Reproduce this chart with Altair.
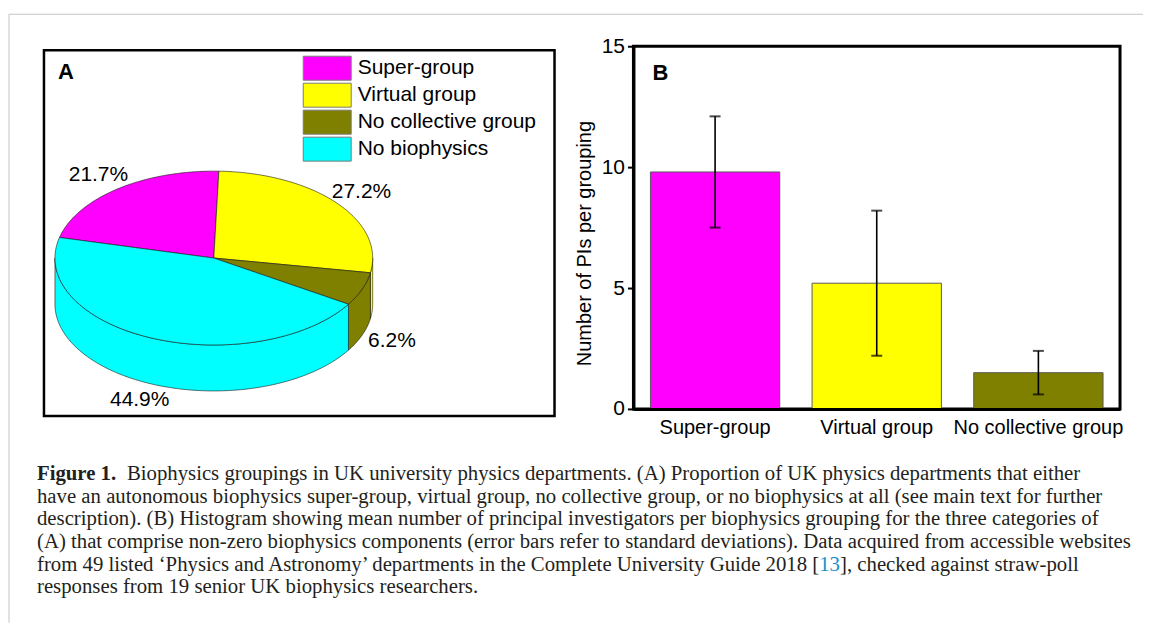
import altair as alt
import numpy as np
import pandas as pd

# ---------------- data ----------------
pie_groups = ["Super-group", "Virtual group", "No collective group", "No biophysics"]
pie_share = [21.7, 27.2, 6.2, 44.9]
group_colors = ["#FF00FF", "#FFFF00", "#808000", "#00FFFF"]

bar_groups = ["Super-group", "Virtual group", "No collective group"]
bar_mean = [9.8, 5.2, 1.5]
bar_sd = [2.3, 3.0, 0.9]
y_tick_values = [0, 5, 10, 15]
y_title = "Number of PIs per grouping"

caption_head = "Figure 1."
caption_lines = [
    "Biophysics groupings in UK university physics departments. (A) Proportion of UK physics departments that either",
    "have an autonomous biophysics super-group, virtual group, no collective group, or no biophysics at all (see main text for further",
    "description). (B) Histogram showing mean number of principal investigators per biophysics grouping for the three categories of",
    "(A) that comprise non-zero biophysics components (error bars refer to standard deviations). Data acquired from accessible websites",
    "from 49 listed \u2018Physics and Astronomy\u2019 departments in the Complete University Guide 2018 [13], checked against straw-poll",
    "responses from 19 senior UK biophysics researchers.",
]
caption_ref = "13"

# ---------------- style / geometry ----------------
FONT = "Liberation Sans"
SERIF = "Liberation Serif"
TILT = 87 / 159      # vertical squash of the pie disc
THICK = 46 / 159     # disc thickness (in pie radii)
START_DEG = -76.3    # clockwise from 12 o'clock where the first slice starts
LABEL_R = 1.2

proj = alt.Projection(type="identity", reflectY=True, scale=159, translate=[170, 212])


def ell(t_deg, drop=0.0):
    r = np.radians(t_deg)
    return [round(float(np.sin(r)), 5), round(float(TILT * np.cos(r) - drop), 5)]


top_feats, side_feats, label_rows = [], [], []
a = START_DEG
for g, s in zip(pie_groups, pie_share):
    b = a + 3.6 * s
    ts = np.linspace(a, b, max(int(b - a), 2) + 1)
    ring = [[0.0, 0.0]] + [ell(t) for t in ts] + [[0.0, 0.0]]
    top_feats.append({"type": "Feature", "properties": {"group": g},
                      "geometry": {"type": "Polygon", "coordinates": [ring]}})
    for shift in (-360.0, 0.0, 360.0):
        lo, hi = max(a + shift, 90.0), min(b + shift, 270.0)
        if hi > lo:
            tt = np.linspace(lo, hi, max(int(hi - lo), 2) + 1)
            sring = [ell(t) for t in tt] + [ell(t, THICK) for t in tt[::-1]]
            sring.append(sring[0])
            side_feats.append({"type": "Feature", "properties": {"group": g},
                               "geometry": {"type": "Polygon", "coordinates": [sring]}})
    m = np.radians((a + b) / 2)
    lx = LABEL_R * np.sin(m)
    ly = LABEL_R * TILT * np.cos(m) - (THICK if np.cos(m) < 0 else 0.0)
    label_rows.append({"lon": float(lx), "lat": float(ly), "txt": f"{s}%"})
    a = b

one = pd.DataFrame({"v": [0]})

pie_color = alt.Color(
    "properties.group:N",
    scale=alt.Scale(domain=pie_groups, range=group_colors),
    legend=alt.Legend(
        orient="none", legendX=271, legendY=9.5, title=None,
        symbolType="M-2,-1H2V1H-2Z", symbolSize=576,
        symbolStrokeColor="#7a7a7a", symbolStrokeWidth=1, symbolOpacity=1,
        labelFont=FONT, labelFontSize=21, labelColor="black",
        labelOffset=18, rowPadding=-2, padding=0, labelLimit=0,
    ),
)

frame_top = alt.Chart(one).mark_rule(color="#c4c4c4", strokeWidth=1).encode(
    x=alt.value(-35), x2=alt.value(1100), y=alt.value(-32))
frame_left = alt.Chart(one).mark_rule(color="#c4c4c4", strokeWidth=1).encode(
    x=alt.value(-35), y=alt.value(-32), y2=alt.value(577))
box_a = alt.Chart(one).mark_rect(fill="white", fillOpacity=0, stroke="black", strokeWidth=2.5).encode(
    x=alt.value(0), x2=alt.value(511), y=alt.value(4), y2=alt.value(370))

sides = alt.Chart(alt.Data(values=side_feats)).mark_geoshape(
    stroke="#1a1a1a", strokeWidth=0.6).encode(color=pie_color).project(**proj.to_dict())
tops = alt.Chart(alt.Data(values=top_feats)).mark_geoshape(
    stroke="#1a1a1a", strokeWidth=0.6).encode(color=pie_color).project(**proj.to_dict())
pct = alt.Chart(pd.DataFrame(label_rows)).mark_text(
    font=FONT, fontSize=21, color="black", align="center", baseline="middle").encode(
    longitude="lon:Q", latitude="lat:Q", text="txt:N").project(**proj.to_dict())
tag_a = alt.Chart(one).mark_text(text="A", font=FONT, fontSize=22, fontWeight="bold",
                                 color="black", align="left", baseline="middle").encode(
    x=alt.value(14), y=alt.value(25.5))

panel_a = alt.layer(frame_top, frame_left, box_a, sides, tops, pct, tag_a).properties(
    width=511, height=370)

# ---------------- panel B ----------------
bar_df = pd.DataFrame({"group": bar_groups, "mean": bar_mean, "sd": bar_sd})
xB = alt.X("group:N", sort=bar_groups, title=None,
           scale=alt.Scale(paddingInner=0.2, paddingOuter=0.105),
           axis=alt.Axis(labelAngle=0, ticks=False, domain=True, domainColor="black",
                         domainWidth=3, labelFont=FONT, labelFontSize=20, labelColor="black",
                         labelPadding=9, labelLimit=0, zindex=1))
yscale = alt.Scale(domain=[0, 15], nice=False)
yaxis = alt.Axis(values=y_tick_values, title=y_title, grid=False, domain=True,
                 domainColor="black", domainWidth=3, ticks=True, tickSize=6, tickWidth=2,
                 tickColor="black", labelFont=FONT, labelFontSize=21, labelColor="black",
                 labelPadding=3, titleFont=FONT, titleFontSize=20, titleFontWeight="normal",
                 titleColor="black", titlePadding=7, titleY=197, zindex=1)

bars = alt.Chart(bar_df).mark_bar(stroke="#5a5a5a", strokeWidth=1).encode(
    x=xB, y=alt.Y("mean:Q", scale=yscale, axis=yaxis),
    color=alt.Color("group:N", scale=alt.Scale(domain=pie_groups, range=group_colors), legend=None))
err_base = alt.Chart(bar_df).transform_calculate(
    lo="datum.mean - datum.sd", hi="datum.mean + datum.sd")
err = err_base.mark_rule(color="black", strokeWidth=1.6).encode(
    x=alt.X("group:N", sort=bar_groups), y=alt.Y("lo:Q", title=y_title), y2="hi:Q")
cap_hi = err_base.mark_tick(color="black", thickness=2, size=11).encode(
    x=alt.X("group:N", sort=bar_groups), y=alt.Y("hi:Q", title=y_title))
cap_lo = err_base.mark_tick(color="black", thickness=2, size=11).encode(
    x=alt.X("group:N", sort=bar_groups), y=alt.Y("lo:Q", title=y_title))
tag_b = alt.Chart(one).mark_text(text="B", font=FONT, fontSize=22, fontWeight="bold",
                                 color="black", align="left", baseline="middle").encode(
    x=alt.value(19), y=alt.value(27))

panel_b = alt.layer(bars, err, cap_hi, cap_lo, tag_b).properties(
    width=487, height=363, view=alt.ViewBackground(stroke="black", strokeWidth=3))

# ---------------- caption ----------------
CAP_X = -7
CAP_INDENT = 90
INK = "#231f20"
LINK = "#1a8fd0"
cap_style = dict(font=SERIF, fontSize=20.8, align="left", baseline="middle")
n_lines = len(caption_lines)
ycap = alt.Y("i:O", axis=None, scale=alt.Scale(domain=list(range(n_lines))))
cap_df = pd.DataFrame({"i": list(range(n_lines)), "txt": caption_lines})

ref_i = next(k for k, t in enumerate(caption_lines) if "[" + caption_ref in t)
ref_line = caption_lines[ref_i]
cut = ref_line.index("[" + caption_ref)
upto_ref = pd.DataFrame({"i": [ref_i], "txt": [ref_line[:cut + 1 + len(caption_ref)]]})
upto_bracket = pd.DataFrame({"i": [ref_i], "txt": [ref_line[:cut + 1]]})
head_df = pd.DataFrame({"i": [0], "txt": [caption_head]})


def cap_text(df, color, **extra):
    return alt.Chart(df).mark_text(color=color, **cap_style, **extra).encode(
        x=alt.value(CAP_X), y=ycap, text="txt:N")


cap_head = alt.Chart(head_df).mark_text(color=INK, fontWeight="bold", **cap_style).encode(
    x=alt.value(CAP_X), y=ycap, text="txt:N")
cap_first = alt.Chart(cap_df).transform_filter("datum.i == 0").mark_text(color=INK, **cap_style).encode(
    x=alt.value(CAP_X + CAP_INDENT), y=ycap, text="txt:N")
cap_rest = alt.Chart(cap_df).transform_filter("datum.i > 0").mark_text(color=INK, **cap_style).encode(
    x=alt.value(CAP_X), y=ycap, text="txt:N")
# reference number in blue: erase the start of the line, repaint it blue, then repaint the plain part
erase1 = cap_text(upto_ref, "white", stroke="white", strokeWidth=2)
ref_blue = cap_text(upto_ref, LINK)
erase2 = cap_text(upto_bracket, "white", stroke="white", strokeWidth=2)
ref_plain = cap_text(upto_bracket, INK)

caption = alt.layer(cap_head, cap_first, cap_rest, erase1, ref_blue, erase2, ref_plain).properties(
    width=511, height=136)

chart = alt.concat(
    panel_a, panel_b, caption, columns=2, bounds="flush",
    spacing={"row": 47, "column": 79},
).resolve_scale(color="independent").properties(
    padding={"left": 0, "top": 5, "right": 0, "bottom": 0}, background="white"
).configure_view(strokeWidth=0)

chart.save("out.html", embed_options={"renderer": "svg", "actions": False})
